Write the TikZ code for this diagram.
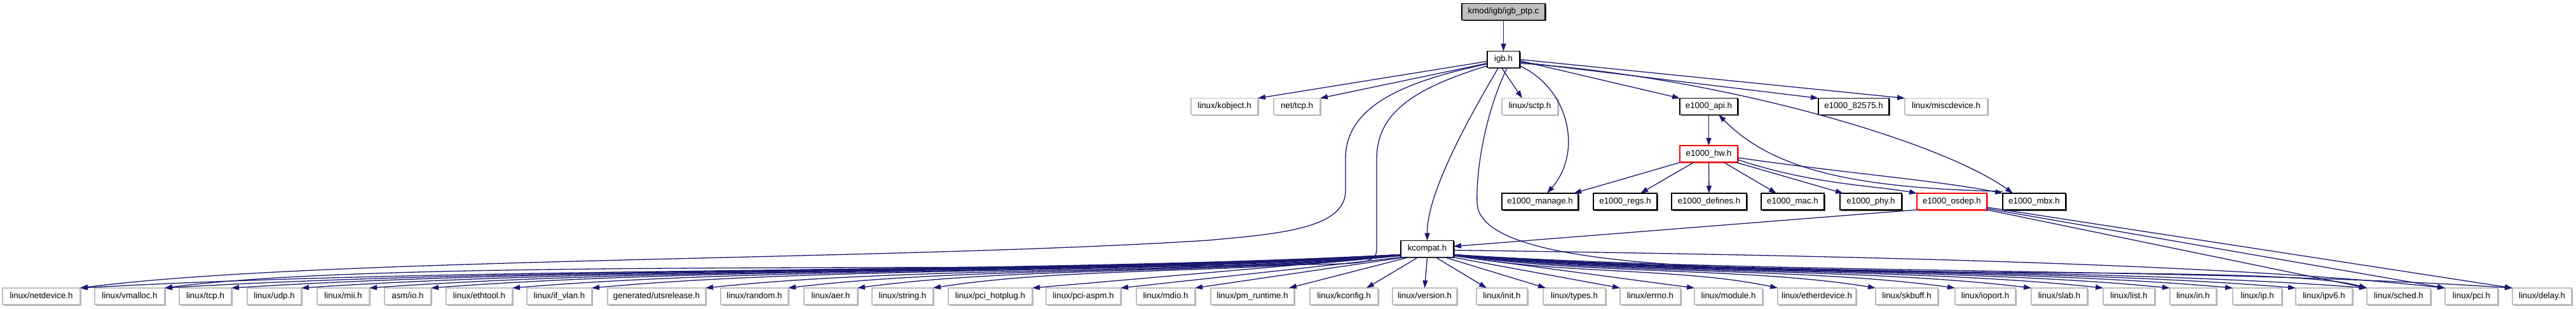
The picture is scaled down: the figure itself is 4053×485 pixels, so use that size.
\documentclass[tikz,border=0pt]{standalone}
\usepackage{fontspec}
\setmainfont{Liberation Sans}
\usetikzlibrary{arrows.meta,shadows,calc}
\definecolor{edgec}{HTML}{191970}
\definecolor{graybord}{HTML}{BFBFBF}
\definecolor{rootfill}{HTML}{BFBFBF}
\begin{document}
\begin{tikzpicture}[x=1pt,y=-1pt,
  every node/.style={font=\fontsize{13.3}{16}\selectfont, inner sep=0pt, outer sep=0pt,
    minimum height=26pt, text height=9.6pt, text depth=2.8pt, line width=1.3pt},
  box/.style={draw=black, fill=white, minimum width=#1,
    drop shadow={shadow xshift=1.8pt, shadow yshift=-1.8pt, fill=black!70, opacity=1}},
  ext/.style={draw=graybord, fill=white, minimum width=#1,
    drop shadow={shadow xshift=1.5pt, shadow yshift=-1.5pt, fill=black!35, opacity=1}},
  redbox/.style={draw=red, fill=white, minimum width=#1,
    drop shadow={shadow xshift=1.8pt, shadow yshift=-1.8pt, fill=red!60, opacity=1}},
  rootbox/.style={draw=black, fill=rootfill, minimum width=#1,
    drop shadow={shadow xshift=1.8pt, shadow yshift=-1.8pt, fill=black!70, opacity=1}},
  edge/.style={draw=edgec, line width=1.3pt, -{Triangle[length=12pt,width=8pt]}}
]
\useasboundingbox (0,0) rectangle (4053,485);

% nodes
\node[rootbox=131pt] (root) at (2365.5,18.5) {kmod/igb/igb\_ptp.c};
\node[box=51pt] (igb) at (2365.5,93.5) {igb.h};

\node[ext=105pt] (kobject) at (1926.5,167.5) {linux/kobject.h};
\node[ext=73pt] (nettcp) at (2040.5,167.5) {net/tcp.h};
\node[ext=88pt] (sctp) at (2407,167.5) {linux/sctp.h};
\node[box=91pt] (api) at (2688.5,167.5) {e1000\_api.h};
\node[box=111pt] (e82575) at (2916.5,167.5) {e1000\_82575.h};
\node[ext=130pt] (misc) at (3062,167.5) {linux/miscdevice.h};

\node[redbox=91pt] (hw) at (2688.5,242) {e1000\_hw.h};

\node[box=120pt] (manage) at (2423,317) {e1000\_manage.h};
\node[box=100pt] (regs) at (2557,317) {e1000\_regs.h};
\node[box=118pt] (defines) at (2689,317) {e1000\_defines.h};
\node[box=99pt] (mac) at (2820.5,317) {e1000\_mac.h};
\node[box=97pt] (phy) at (2943.5,317) {e1000\_phy.h};
\node[redbox=110pt] (osdep) at (3071,317) {e1000\_osdep.h};
\node[box=99pt] (mbx) at (3200.5,317) {e1000\_mbx.h};

\node[box=83pt] (kcompat) at (2245.5,391.5) {kcompat.h};

\node[ext=122pt] (bnetdevice) at (65,466) {linux/netdevice.h};
\node[ext=110pt] (bvmalloc) at (204,466) {linux/vmalloc.h};
\node[ext=82pt] (btcp) at (323,466) {linux/tcp.h};
\node[ext=85pt] (budp) at (431.5,466) {linux/udp.h};
\node[ext=82pt] (bmii) at (540,466) {linux/mii.h};
\node[ext=73pt] (basmio) at (641.5,466) {asm/io.h};
\node[ext=104pt] (bethtool) at (754,466) {linux/ethtool.h};
\node[ext=102pt] (bifvlan) at (880,466) {linux/if\_vlan.h};
\node[ext=154pt] (buts) at (1033,466) {generated/utsrelease.h};
\node[ext=106pt] (brandom) at (1187,466) {linux/random.h};
\node[ext=84pt] (baer) at (1307,466) {linux/aer.h};
\node[ext=96pt] (bstring) at (1420,466) {linux/string.h};
\node[ext=132pt] (bhotplug) at (1558,466) {linux/pci\_hotplug.h};
\node[ext=117pt] (baspm) at (1704.5,466) {linux/pci-aspm.h};
\node[ext=92pt] (bmdio) at (1834,466) {linux/mdio.h};
\node[ext=131pt] (bpmrt) at (1970.5,466) {linux/pm\_runtime.h};
\node[ext=107pt] (bkconfig) at (2114.5,466) {linux/kconfig.h};
\node[ext=101pt] (bversion) at (2241.5,466) {linux/version.h};
\node[ext=80pt] (binit) at (2363,466) {linux/init.h};
\node[ext=98pt] (btypes) at (2477,466) {linux/types.h};
\node[ext=95pt] (berrno) at (2596.5,466) {linux/errno.h};
\node[ext=107pt] (bmodule) at (2719.5,466) {linux/module.h};
\node[ext=123pt] (bether) at (2858.5,466) {linux/etherdevice.h};
\node[ext=98pt] (bskbuff) at (3000,466) {linux/skbuff.h};
\node[ext=95pt] (bioport) at (3123.5,466) {linux/ioport.h};
\node[ext=88pt] (bslab) at (3240,466) {linux/slab.h};
\node[ext=81pt] (blist) at (3349.5,466) {linux/list.h};
\node[ext=73pt] (bin) at (3450.5,466) {linux/in.h};
\node[ext=77pt] (bip) at (3551.5,466) {linux/ip.h};
\node[ext=89pt] (bipv6) at (3656.5,466) {linux/ipv6.h};
\node[ext=100pt] (bsched) at (3774,466) {linux/sched.h};
\node[ext=83pt] (bpci) at (3888.5,466) {linux/pci.h};
\node[ext=93pt] (bdelay) at (3999.5,466) {linux/delay.h};

% edges from root / igb
\draw[edge] (root.south) -- (igb.north);
\draw[edge] ($(igb.west)+(0,3)$) -- (kobject.north east);
\draw[edge] ($(igb.west)+(0,6)$) -- (nettcp.north east);
\draw[edge] ($(igb.south)+(-3,0)$) -- ($(sctp.north)+(-12,0)$);
\draw[edge] ($(igb.east)+(0,2)$) -- (api.north west);
\draw[edge] ($(igb.east)+(0,4)$) -- (e82575.north west);
\draw[edge] ($(igb.east)+(0,0)$) -- (misc.north west);
\draw[edge] ($(igb.south east)+(0,-3)$) .. controls (2470,140) and (2490,240) .. ($(manage.north)+(11,0)$);
\draw[edge] ($(igb.east)+(0,6)$) .. controls (2700,120) and (3050,220) .. ($(mbx.north west)+(16,0)$);
\draw[edge] ($(igb.south)+(-8,0)$) .. controls (2320,170) and (2245,300) .. (kcompat.north);
% igb long curves
\draw[edge] ($(igb.west)+(0,7)$) .. controls (2200,130) and (2117,170) .. (2117,250)
   -- (2117,300) .. controls (2117,360) and (2010,368) .. (1900,378)
   .. controls (1400,410) and (500,405) .. (bnetdevice.north east);
\draw[edge] ($(igb.west)+(0,10)$) .. controls (2220,140) and (2166,180) .. (2166,250)
   -- (2166,392) .. controls (2166,410) and (2150,413) .. (2110,415)
   .. controls (1500,428) and (600,408) .. (bvmalloc.north east);
\draw[edge] ($(igb.south)+(6,0)$) .. controls (2340,170) and (2322,260) .. (2324,320)
   .. controls (2330,420) and (2700,425) .. (3100,428)
   .. controls (3450,430) and (3650,432) .. (bsched.north west);

% e1000 cluster
\draw[edge] (api.south) -- (hw.north);
\draw[edge] ($(hw.south west)+(2,0)$) -- ($(manage.north east)+(-7,0)$);
\draw[edge] ($(hw.south)+(-23,0)$) -- ($(regs.north east)+(-26,0)$);
\draw[edge] (hw.south) -- (defines.north);
\draw[edge] ($(hw.south)+(23,0)$) -- ($(mac.north west)+(24,0)$);
\draw[edge] ($(hw.south east)+(-4,0)$) -- ($(phy.north west)+(5,0)$);
\draw[edge] ($(hw.east)+(0,9)$) .. controls (2850,290) and (2950,292) .. (osdep.north west);
\draw[edge] ($(hw.east)+(0,6)$) .. controls (2900,272) and (3050,284) .. (mbx.north west);
\draw[edge] ($(mbx.north west)+(0,-3)$) .. controls (2920,296) and (2790,268) .. ($(api.south east)+(-30,0)$);

% osdep
\draw[edge] (osdep.south west) -- ($(kcompat.east)+(0,-4)$);
\draw[edge] (osdep.south east) -- (bsched.north west);
\draw[edge] ($(osdep.south east)+(0,-2)$) -- (bpci.north west);
\draw[edge] ($(osdep.south east)+(0,-4)$) -- (bdelay.north west);

% kcompat -> bottom row
\foreach \n/\xr in {bnetdevice/126, bvmalloc/259, btcp/364, budp/474, bmii/581, basmio/678,
    bethtool/806, bifvlan/931, buts/1110, brandom/1240, baer/1349, bstring/1468} {
  \pgfmathsetmacro{\dx}{2204-\xr}
  \pgfmathsetmacro{\pa}{2204-0.3*\dx}
  \pgfmathsetmacro{\pb}{\xr+0.3*\dx}
  \draw[edge] ($(kcompat.south west)+(0,-4)$) .. controls (\pa,432) and (\pb,418) .. (\n.north east);
}
\draw[edge] ($(kcompat.south west)+(0,-2)$) -- (bhotplug.north east);
\draw[edge] ($(kcompat.south west)+(3,0)$) -- (baspm.north east);
\draw[edge] ($(kcompat.south west)+(7,0)$) -- (bmdio.north east);
\draw[edge] ($(kcompat.south west)+(13,0)$) -- ($(bpmrt.north east)+(-8,0)$);
\draw[edge] ($(kcompat.south)+(-14,0)$) -- ($(bkconfig.north east)+(-18,0)$);
\draw[edge] (kcompat.south) -- (bversion.north);
\draw[edge] ($(kcompat.south)+(13,0)$) -- ($(binit.north west)+(16,0)$);
\draw[edge] ($(kcompat.south)+(27,0)$) -- ($(btypes.north west)+(4,0)$);
\draw[edge] ($(kcompat.south east)+(-2,0)$) -- (berrno.north west);
\draw[edge] ($(kcompat.south east)+(0,-2)$) -- (bmodule.north west);
\foreach \n/\xl in {bether/2797, bskbuff/2951, bioport/3076, bslab/3196, blist/3309, bin/3414,
    bip/3513, bipv6/3612, bsched/3724, bdelay/3953} {
  \pgfmathsetmacro{\dx}{\xl-2287}
  \pgfmathsetmacro{\pa}{2287+0.3*\dx}
  \pgfmathsetmacro{\pb}{\xl-0.3*\dx}
  \draw[edge] ($(kcompat.south east)+(0,-4)$) .. controls (\pa,432) and (\pb,420) .. (\n.north west);
}
\draw[edge] ($(kcompat.east)+(0,2)$) .. controls (2900,402) and (3500,415) .. (bpci.north west);
\end{tikzpicture}
\end{document}
